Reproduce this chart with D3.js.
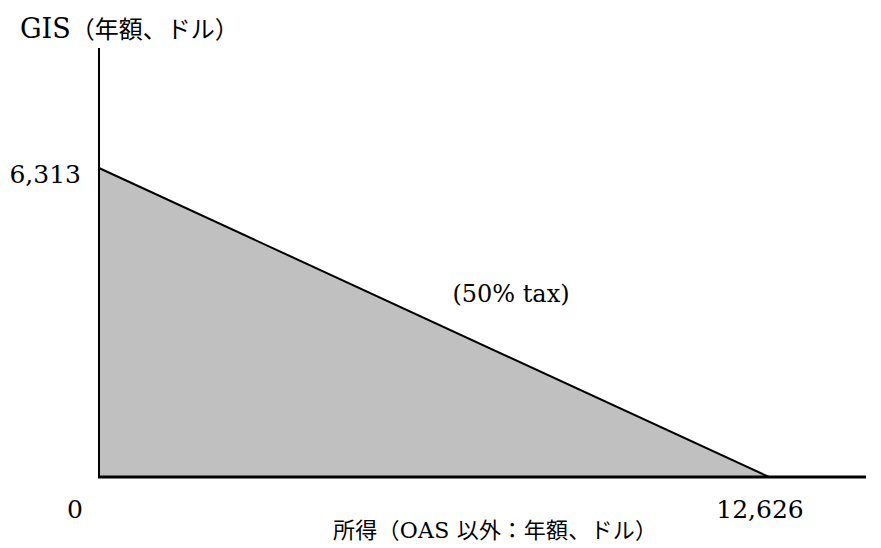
<!DOCTYPE html>
<html><head><meta charset="utf-8">
<script src="https://cdn.jsdelivr.net/npm/d3@7"></script>
<style>body{margin:0;background:#fff}</style>
</head><body>
<svg id="c" width="881" height="548"></svg>
<script>
const xDomain = [0, 14454];
const yDomain = [0, 8765];
const gisPoints = [[0, 6313], [12626, 0]];
const yTickLabels = [{v: 6313, t: "6,313"}];
const xTickLabels = [{v: 0, t: "0"}, {v: 12626, t: "12,626"}];
const yTitle = ["GIS", "（年額、ドル）"];
const xTitle = ["所得（", "OAS ", "以外：年額、ドル）"];
const note = {x: 7764, y: 3575, t: "(50% tax)"};

const svg = d3.select("#c");
const x = d3.scaleLinear().domain(xDomain).range([99, 866]);
const y = d3.scaleLinear().domain(yDomain).range([477, 48]);
const serif = "'DejaVu Serif', 'Liberation Serif', serif";
const cjk = "'Noto Sans CJK JP', sans-serif";

const area = [[0,0], gisPoints[0], gisPoints[1]];
const line = d3.line().x(d=>x(d[0])).y(d=>y(d[1]));
svg.append("path").attr("d", line(area) + "Z").attr("fill", "#c0c0c0");
svg.append("path").attr("d", line(gisPoints))
  .attr("fill", "none").attr("stroke", "#000").attr("stroke-width", 2);
// axes
svg.append("line").attr("x1", x(0)).attr("x2", x(0)).attr("y1", y(yDomain[1])).attr("y2", y(0))
  .attr("stroke", "#000").attr("stroke-width", 2);
svg.append("line").attr("x1", x(0)-1).attr("x2", x(xDomain[1])).attr("y1", y(0)).attr("y2", y(0))
  .attr("stroke", "#000").attr("stroke-width", 3);

yTickLabels.forEach(d => {
  svg.append("text").attr("x", 81).attr("y", y(d.v) + 15).attr("text-anchor", "end")
    .attr("font-family", serif).attr("font-size", 25).text(d.t);
});
xTickLabels.forEach(d => {
  svg.append("text").attr("x", x(d.v) - (d.v === 0 ? 24 : 9)).attr("y", 518).attr("text-anchor", "middle")
    .attr("font-family", serif).attr("font-size", 25).text(d.t);
});
const t = svg.append("text").attr("x", 20).attr("y", 38);
t.append("tspan").attr("font-family", serif).attr("font-size", 27).text(yTitle[0]);
t.append("tspan").attr("font-family", cjk).attr("font-size", 24).text(yTitle[1]);

const xt = svg.append("text").attr("x", 333).attr("y", 538)
  .attr("textLength", 324).attr("lengthAdjust", "spacing");
xt.append("tspan").attr("font-family", cjk).attr("font-size", 22).text(xTitle[0]);
xt.append("tspan").attr("font-family", serif).attr("font-size", 22).text(xTitle[1]);
xt.append("tspan").attr("font-family", cjk).attr("font-size", 22).text(xTitle[2]);

svg.append("text").attr("x", x(note.x)).attr("y", y(note.y)).attr("text-anchor", "middle")
  .attr("font-family", serif).attr("font-size", 24).text(note.t);
</script>
</body></html>
